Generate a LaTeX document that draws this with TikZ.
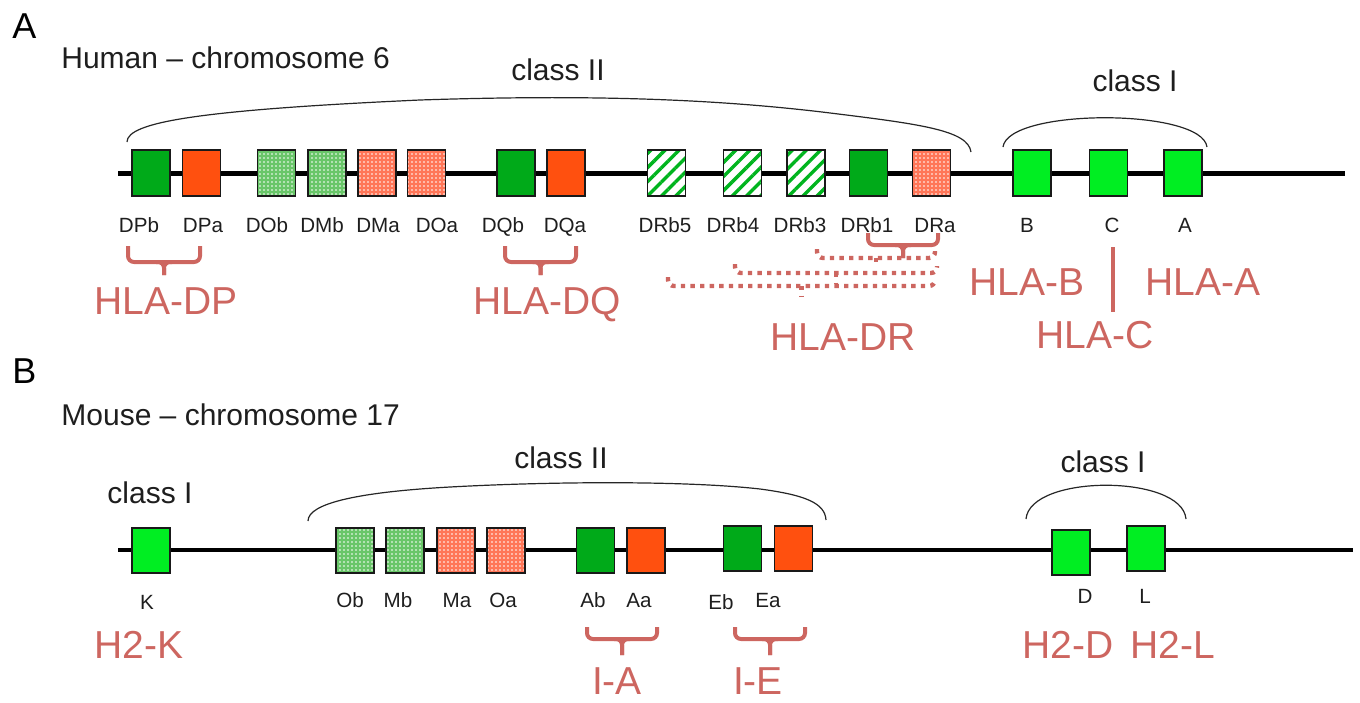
\documentclass[tikz,border=0pt]{standalone}
\usepackage{fontspec}
\setmainfont{Liberation Sans}
\usetikzlibrary{patterns.meta}

\definecolor{gdark}{RGB}{0,170,25}
\definecolor{gbright}{RGB}{0,238,34}
\definecolor{rsolid}{RGB}{255,80,15}
\definecolor{gpale}{RGB}{105,198,105}
\definecolor{rpale}{RGB}{255,118,88}
\definecolor{ghatch}{RGB}{0,180,30}
\definecolor{hla}{RGB}{205,102,96}
\definecolor{ink}{RGB}{30,30,30}

\tikzset{
  gene/.style={draw=black!90, line width=0.8pt, minimum width=19pt,
    minimum height=23pt, inner sep=0pt},
  mgene/.style={gene, minimum height=22.5pt},
  solidb/.style={fill=gdark},
  solida/.style={fill=rsolid},
  dotb/.style={preaction={fill=gpale},
    pattern={Dots[distance=2pt,radius=0.45pt]}, pattern color=white},
  dota/.style={preaction={fill=rpale},
    pattern={Dots[distance=2pt,radius=0.45pt]}, pattern color=white},
  hatchb/.style={preaction={fill=white},
    pattern={Lines[angle=45,distance=5pt,line width=1.7pt]}, pattern color=ghatch},
  classi/.style={fill=gbright},
  glabel/.style={font=\fontsize{10.3}{12}\selectfont, text=ink, anchor=base, inner sep=0pt},
  hlabel/.style={font=\fontsize{19.5}{22}\selectfont, text=hla, anchor=base, inner sep=0pt},
  title/.style={font=\fontsize{15}{18}\selectfont, text=ink, anchor=base west, inner sep=0pt},
  panel/.style={font=\fontsize{18}{21}\selectfont, text=black, anchor=base west, inner sep=0pt},
  classlbl/.style={font=\fontsize{15}{18}\selectfont, text=ink, anchor=base, inner sep=0pt},
  chrom/.style={line width=2.5pt, black},
  mchrom/.style={line width=2pt, black},
  arcline/.style={line width=0.6pt, black!85},
  bracestyle/.style={hla, line width=2pt, rounded corners=3pt},
  drdots/.style={hla, line width=2.2pt, dash pattern=on 2.2pt off 2.6pt},
}

% curly brace under a gene pair: left x, right x, top y, bar y, tip y
\newcommand\genebrace[5]{%
  \draw[bracestyle] (#1,#3) -- (#1,#4) -- (#2,#4) -- (#2,#3);
  \draw[bracestyle] ({(#1+#2)/2-8},#4) -- ({(#1+#2)/2},#4) -- ({(#1+#2)/2},#5);
  \draw[bracestyle] ({(#1+#2)/2+8},#4) -- ({(#1+#2)/2},#4) -- ({(#1+#2)/2},#5);
}
% dotted brace grouping the DRB genes with DRA
\newcommand\dotbrace[5]{%
  \draw[drdots, rounded corners=3pt] (#1,#3) -- (#1,#4) -- (#2,#4) -- (#2,{#4-7});
  \draw[drdots] ({(#1+#2)/2},#4) -- ({(#1+#2)/2},#5);
}

\begin{document}
\begin{tikzpicture}[x=0.5pt, y=-0.5pt]
\useasboundingbox (0,0) rectangle (1360,702);

% ---------------- A: human chromosome 6 ----------------
\node[panel] (pa) at (12,38) {A};
\node[title] (ta) at (61,68) {Human \textendash{} chromosome 6};

\coordinate (hL) at (118,173);
\coordinate (hR) at (1345,173);
\draw[chrom] (hL) -- (hR);

\foreach \n/\x/\s in {DPb/151/solidb, DPa/201.5/solida, DOb/276.5/dotb,
  DMb/327/dotb, DMa/377/dota, DOa/426.5/dota, DQb/516/solidb, DQa/566/solida,
  DRbv/666.5/hatchb, DRbiv/742.5/hatchb, DRbiii/806/hatchb, DRbi/868.5/solidb,
  DRa/931.5/dota, B/1032/classi, C/1108.5/classi, A/1183/classi}
  \node[gene, \s] (h\n) at (\x,173) {};

\foreach \n/\t/\x in {DPb/DPb/139, DPa/DPa/203, DOb/DOb/267, DMb/DMb/322,
  DMa/DMa/378, DOa/DOa/437, DQb/DQb/503, DQa/DQa/565, DRbv/DRb5/665,
  DRbiv/DRb4/733, DRbiii/DRb3/800, DRbi/DRb1/867, DRa/DRa/935,
  B/B/1027, C/C/1112, A/A/1185}
  \node[glabel] (lh\n) at (\x,232) {\t};

% class regions
\draw[arcline] (127,142) .. controls (127,122) and (200,110) .. (420,100)
  .. controls (600,94) and (720,100) .. (822,112)
  .. controls (920,124) and (968,130) .. (971,152);
\node[classlbl] (hcII) at (558,80) {class II};
\draw[arcline] (1003,147) .. controls (1008,108) and (1202,108) .. (1207,147);
\node[classlbl] (hcI) at (1135,91) {class I};

% HLA groupings
\genebrace{128}{200}{246}{262}{275}
\node[hlabel] (HDP) at (166,314) {HLA-DP};
\genebrace{505}{576}{246}{262}{275}
\node[hlabel] (HDQ) at (547,314) {HLA-DQ};
\genebrace{868}{938}{233}{245}{258}
\dotbrace{817}{935}{249}{258}{267}
\dotbrace{735}{937}{264}{273}{283}
\dotbrace{668}{935}{277}{286}{296}
\node[hlabel] (HDR) at (843,350) {HLA-DR};
\node[hlabel] (HB) at (1027,295) {HLA-B};
\node[hlabel] (HA) at (1203,295) {HLA-A};
\node[hlabel] (HC) at (1095,348) {HLA-C};
\coordinate (sepT) at (1113,247);
\coordinate (sepB) at (1113,312);
\draw[hla, line width=2pt] (sepT) -- (sepB);

% ---------------- B: mouse chromosome 17 ----------------
\node[panel] (pb) at (12,383) {B};
\node[title] (tb) at (61,425) {Mouse \textendash{} chromosome 17};

\coordinate (mL) at (118,550);
\coordinate (mR) at (1353,550);
\draw[mchrom] (mL) -- (mR);

\foreach \n/\x/\y/\s in {K/151/550.5/classi, Ob/355/550.5/dotb, Mb/405/550.5/dotb,
  Ma/456/550.5/dota, Oa/506/550.5/dota, Ab/595.5/550.5/solidb, Aa/646/550.5/solida,
  Eb/742.5/548.5/solidb, Ea/793.5/548.5/solida, D/1071/552.5/classi,
  L/1146/548.5/classi}
  \node[mgene, \s] (m\n) at (\x,\y) {};

\foreach \n/\x/\y in {K/147/609, Ob/350/607, Mb/398/607, Ma/457/607, Oa/503/607,
  Ab/593/607, Aa/639/607, Eb/721/609, Ea/768/607, D/1085/603, L/1145/603}
  \node[glabel] (lm\n) at (\x,\y) {\n};

\node[classlbl] (mcIa) at (150,503) {class I};
\draw[arcline] (308,521) .. controls (308,503) and (360,492) .. (450,487)
  .. controls (560,481) and (690,481) .. (760,489)
  .. controls (805,495) and (825,503) .. (826,520);
\node[classlbl] (mcII) at (561,468) {class II};
\draw[arcline] (1026,519) .. controls (1030,474) and (1182,474) .. (1186,519);
\node[classlbl] (mcIb) at (1103,472) {class I};

\node[hlabel] (H2K) at (139,658) {H2-K};
\genebrace{587}{657}{627}{639}{655}
\node[hlabel] (IA) at (617,694) {I-A};
\genebrace{735}{805}{627}{639}{655}
\node[hlabel] (IE) at (758,694) {I-E};
\node[hlabel] (H2D) at (1068,658) {H2-D};
\node[hlabel] (H2L) at (1173,658) {H2-L};
\end{tikzpicture}
\end{document}
